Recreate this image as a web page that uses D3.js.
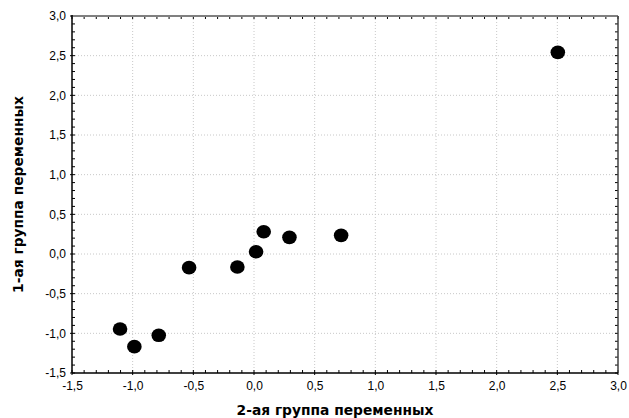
<!DOCTYPE html>
<html><head><meta charset="utf-8">
<script src="https://cdn.jsdelivr.net/npm/d3@7"></script>
<style>body{margin:0;background:#fff}svg{display:block}</style>
</head><body>
<script>
const xValues = [-1.104, -0.986, -0.785, -0.535, -0.137, 0.017, 0.080, 0.292, 0.718, 2.504];
const yValues = [-0.946, -1.168, -1.025, -0.172, -0.164, 0.029, 0.281, 0.210, 0.235, 2.542];
const xTicks = [-1.5,-1.0,-0.5,0.0,0.5,1.0,1.5,2.0,2.5,3.0];
const yTicks = [-1.5,-1.0,-0.5,0.0,0.5,1.0,1.5,2.0,2.5,3.0];
const xTitle = "2-ая группа переменных";
const yTitle = "1-ая группа переменных";

const W = 629, H = 418;
const m = {l:72, r:11, t:16, b:45};
const svg = d3.select("body").append("svg").attr("width",W).attr("height",H);
const x = d3.scaleLinear().domain([-1.5,3.0]).range([m.l, W-m.r]);
const y = d3.scaleLinear().domain([-1.5,3.0]).range([H-m.b, m.t]);
const fmt = d => d3.format(".1f")(d).replace(".", ",").replace("−","-");
const font = "'Liberation Sans', Arial, sans-serif";
const tfont = "'DejaVu Sans', Verdana, sans-serif";

// grid
const g = svg.append("g");
g.selectAll("line.gx").data(xTicks.slice(1,-1)).join("line")
  .attr("x1",d=>x(d)).attr("x2",d=>x(d)).attr("y1",y(3)).attr("y2",y(-1.5))
  .attr("stroke","#c8c8c8").attr("stroke-dasharray","1,2").attr("stroke-width",1);
g.selectAll("line.gy").data(yTicks.slice(1,-1)).join("line")
  .attr("y1",d=>y(d)).attr("y2",d=>y(d)).attr("x1",x(-1.5)).attr("x2",x(3))
  .attr("stroke","#c8c8c8").attr("stroke-dasharray","1,2").attr("stroke-width",1);

// minor ticks (every 0.1) inward
const minor = d3.range(-1.5, 3.0001, 0.1);
const tk = svg.append("g").attr("stroke","#000").attr("stroke-width",1);
tk.selectAll("line.bx").data(minor).join("line")
  .attr("x1",d=>x(d)).attr("x2",d=>x(d)).attr("y1",y(-1.5)).attr("y2",y(-1.5)-3);
tk.selectAll("line.tx").data(minor).join("line")
  .attr("x1",d=>x(d)).attr("x2",d=>x(d)).attr("y1",y(3)).attr("y2",y(3)+3);
tk.selectAll("line.ly").data(minor).join("line")
  .attr("y1",d=>y(d)).attr("y2",d=>y(d)).attr("x1",x(-1.5)).attr("x2",x(-1.5)+3);
tk.selectAll("line.ry").data(minor).join("line")
  .attr("y1",d=>y(d)).attr("y2",d=>y(d)).attr("x1",x(3)).attr("x2",x(3)-3);
// major ticks outward
tk.selectAll("line.mx").data(xTicks).join("line")
  .attr("x1",d=>x(d)).attr("x2",d=>x(d)).attr("y1",y(-1.5)).attr("y2",y(-1.5)+2);
tk.selectAll("line.my").data(yTicks).join("line")
  .attr("y1",d=>y(d)).attr("y2",d=>y(d)).attr("x1",x(-1.5)).attr("x2",x(-1.5)-2);

// frame
svg.append("line").attr("x1",x(-1.5)).attr("x2",x(3)).attr("y1",y(3)).attr("y2",y(3)).attr("stroke","#808080").attr("stroke-width",2);
svg.append("line").attr("x1",x(3)).attr("x2",x(3)).attr("y1",y(3)).attr("y2",y(-1.5)).attr("stroke","#404040").attr("stroke-width",1.5);
svg.append("line").attr("x1",x(-1.5)).attr("x2",x(-1.5)).attr("y1",y(3)-1).attr("y2",y(-1.5)).attr("stroke","#000").attr("stroke-width",1.5);
svg.append("line").attr("x1",x(-1.5)).attr("x2",x(3)).attr("y1",y(-1.5)).attr("y2",y(-1.5)).attr("stroke","#000").attr("stroke-width",1.5);

// axes labels via d3 axes (no domain/ticks drawn)
const xa = svg.append("g").attr("transform",`translate(0,${y(-1.5)})`)
  .call(d3.axisBottom(x).tickValues(xTicks).tickFormat(fmt).tickSize(0).tickPadding(8));
const ya = svg.append("g").attr("transform",`translate(${x(-1.5)},0)`)
  .call(d3.axisLeft(y).tickValues(yTicks).tickFormat(fmt).tickSize(0).tickPadding(6));
[xa,ya].forEach(a=>{a.select(".domain").remove();
  a.selectAll("text").attr("font-family",font).attr("font-size",12).attr("fill","#000");});

// points
svg.append("g").selectAll("ellipse").data(xValues.map((v,i)=>[v,yValues[i]])).join("ellipse")
  .attr("cx",d=>x(d[0])).attr("cy",d=>y(d[1])).attr("rx",7.3).attr("ry",6.8).attr("fill","#000");

// titles
svg.append("text").attr("x",335).attr("y",415).attr("text-anchor","middle")
  .attr("font-family",tfont).attr("font-size",13.8).attr("font-weight","bold").text(xTitle);
svg.append("text").attr("transform",`translate(23,${(y(3)+y(-1.5))/2}) rotate(-90)`).attr("text-anchor","middle")
  .attr("font-family",tfont).attr("font-size",13.8).attr("font-weight","bold").text(yTitle);
</script>
</body></html>
